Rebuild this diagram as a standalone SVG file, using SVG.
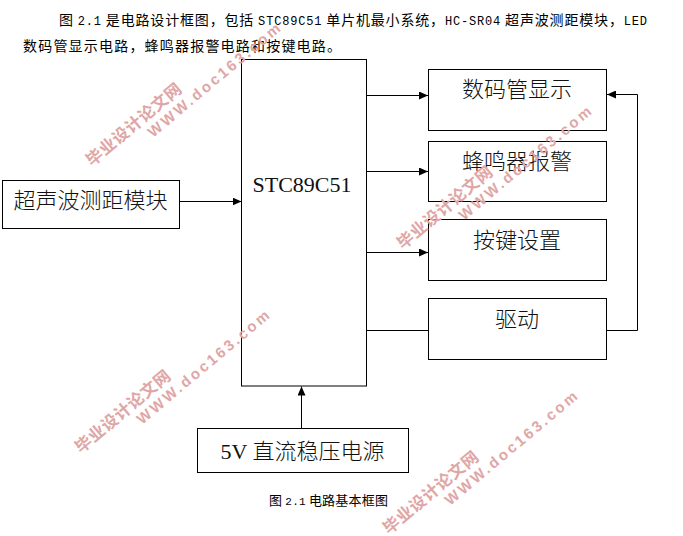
<svg xmlns="http://www.w3.org/2000/svg" width="683" height="536" viewBox="0 0 683 536">
<style>
text{font-family:"Liberation Serif","Noto Sans CJK SC",serif;fill:#111}
.box{fill:#fff;stroke:#000;stroke-width:1}
.lbl{font-size:22px;text-anchor:middle;font-weight:300}
.body{font-family:"Noto Sans CJK SC",sans-serif;font-size:14px;fill:#000}
.body tspan{font-family:"Liberation Mono",monospace;font-size:12px}
.wm{font-family:"Liberation Sans","Noto Sans CJK SC",sans-serif;fill:#dfa6a6;font-weight:700}
.wa{font-size:16.500px;letter-spacing:0.500px}
.wb{font-size:15px;letter-spacing:2.700px}
.wire{fill:none;stroke:#000;stroke-width:1}
</style>
<defs>
<marker id="ah" viewBox="0 0 9 8" refX="9" refY="4" markerWidth="9" markerHeight="8" markerUnits="userSpaceOnUse" orient="auto"><path d="M0 0L9 4L0 8Z" fill="#000"/></marker>
<g id="mark">
<text class="wm wa" transform="rotate(-40)">毕业设计论文网</text>
<text class="wm wb" transform="translate(61,-29) rotate(-40)">WWW.doc163.com</text>
</g>
</defs>
<rect width="683" height="536" fill="#fff"/>
<text class="body" x="59" y="25" textLength="588" lengthAdjust="spacing">图 <tspan>2.1</tspan> 是电路设计框图，包括 <tspan>STC89C51</tspan> 单片机最小系统，<tspan>HC-SR04</tspan> 超声波测距模块，<tspan>LED</tspan></text>
<text class="body" x="23" y="51" textLength="318" lengthAdjust="spacing">数码管显示电路，蜂鸣器报警电路和按键电路。</text>
<g id="connectors">
<path class="wire" d="M179.500 201.500H241.500" marker-end="url(#ah)"/>
<path class="wire" d="M366.500 95.500H428" marker-end="url(#ah)"/>
<path class="wire" d="M366.500 171.500H428" marker-end="url(#ah)"/>
<path class="wire" d="M366.500 252.500H428" marker-end="url(#ah)"/>
<path class="wire" d="M366.500 330.500H428.500"/>
<path class="wire" d="M606.500 330.500H637.500V94.500H607" marker-end="url(#ah)"/>
<path class="wire" d="M301.500 428V386.500" marker-end="url(#ah)"/>
</g>
<g id="mcu"><rect class="box" x="241.500" y="59.500" width="125" height="326.500"/><text class="lbl" x="302" y="192" style="font-weight:400">STC89C51</text></g>
<g id="sensor"><rect class="box" x="2.500" y="180.500" width="177" height="48"/><text class="lbl" x="90.500" y="208">超声波测距模块</text></g>
<g id="display"><rect class="box" x="428.500" y="69.500" width="178" height="61"/><text class="lbl" x="517" y="97">数码管显示</text></g>
<g id="buzzer"><rect class="box" x="428.500" y="141.500" width="178" height="60"/><text class="lbl" x="517" y="169">蜂鸣器报警</text></g>
<g id="keys"><rect class="box" x="428.500" y="219.500" width="178" height="61"/><text class="lbl" x="517" y="248">按键设置</text></g>
<g id="driver"><rect class="box" x="428.500" y="298.500" width="178" height="61"/><text class="lbl" x="517" y="327">驱动</text></g>
<g id="power"><rect class="box" x="197.500" y="428.500" width="211" height="44"/><text class="lbl" x="302.500" y="459">5V 直流稳压电源</text></g>
<text class="body" x="269" y="505" textLength="119" lengthAdjust="spacing" style="font-size:13px">图 <tspan style="font-size:11px">2.1</tspan> 电路基本框图</text>
<use href="#mark" transform="translate(92,167)"/>
<use href="#mark" transform="translate(403,250)"/>
<use href="#mark" transform="translate(81,454)"/>
<use href="#mark" transform="translate(389,535)"/>
</svg>
